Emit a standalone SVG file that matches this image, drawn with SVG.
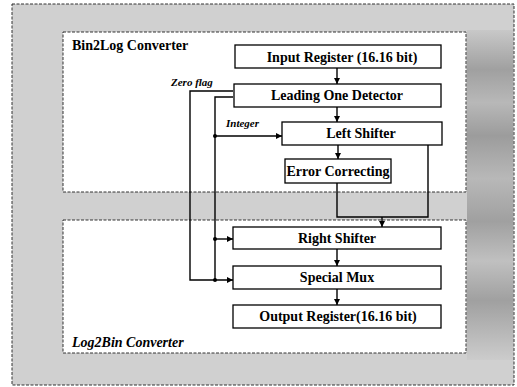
<svg xmlns="http://www.w3.org/2000/svg" width="517" height="387" viewBox="0 0 517 387">
<defs>
<style>
.frame{stroke:#333;stroke-width:1;stroke-dasharray:3 1.5}
.box{fill:#fff;stroke:#000;stroke-width:1.3}
text{font-family:'Liberation Serif','DejaVu Serif',serif;font-weight:bold;fill:#000}
.lbl{font-size:14px;text-anchor:middle}
.title{font-size:14px}
.sig{font-style:italic;font-size:11px}
.wire{fill:none;stroke:#000;stroke-width:1.4}
.arr{fill:none;stroke:#000;stroke-width:1.4;marker-end:url(#ah)}
</style>
<marker id="ah" viewBox="0 0 8 8" refX="8" refY="4" markerWidth="6" markerHeight="6" markerUnits="userSpaceOnUse" orient="auto">
<path d="M0,0 L8,4 L0,8 z" fill="#000"/>
</marker>
<linearGradient id="rg" x1="0" y1="0" x2="0" y2="1">
<stop offset="0" stop-color="#c8c8c8"/>
<stop offset="0.12" stop-color="#a0a0a0"/>
<stop offset="0.22" stop-color="#b8b8b8"/>
<stop offset="0.32" stop-color="#9c9c9c"/>
<stop offset="0.45" stop-color="#b8b8b8"/>
<stop offset="0.58" stop-color="#a0a0a0"/>
<stop offset="0.7" stop-color="#c0c0c0"/>
<stop offset="0.82" stop-color="#a0a0a0"/>
<stop offset="1" stop-color="#cccccc"/>
</linearGradient>
</defs>
<rect width="517" height="387" fill="#fff"/>
<g id="background">
<rect x="12" y="4" width="502" height="381" fill="#d0d0d0" class="frame"/>
<rect x="467" y="30" width="46" height="330" fill="url(#rg)"/>
<rect x="63" y="32" width="403" height="160" class="frame" fill="#fff"/>
<rect x="63" y="220" width="403" height="133" class="frame" fill="#fff"/>
<text x="72" y="50" class="title" font-family="Liberation Serif, serif">Bin2Log Converter</text>
<text x="72" y="347" class="title" font-style="italic">Log2Bin Converter</text>
</g>
<g id="connectors">
<path class="arr" d="M337,68 V84"/>
<path class="arr" d="M337,107 V122"/>
<path class="arr" d="M338,145 V159"/>
<path class="arr" d="M337,249 V266"/>
<path class="arr" d="M337,289 V305"/>
<path class="arr" d="M233,91 H190 V280 H233"/>
<path class="wire" d="M233,97 H215 V280"/>
<path class="arr" d="M215,136 H282"/>
<path class="arr" d="M215,239 H233"/>
<circle cx="215" cy="136" r="2" fill="#000"/>
<circle cx="215" cy="239" r="2" fill="#000"/>
<circle cx="215" cy="280" r="2" fill="#000"/>
<path class="wire" d="M337,183 V217 H428 V145"/>
<path class="arr" d="M382,217 V227"/>
<text x="171" y="86" class="sig">Zero flag</text>
<text x="226" y="127" class="sig">Integer</text>
</g>
<g id="input-register">
<rect x="235" y="45" width="206" height="23" class="box"/>
<text x="342" y="62" class="lbl">Input Register (16.16 bit)</text>
</g>
<g id="leading-one-detector">
<rect x="234" y="84" width="207" height="23" class="box"/>
<text x="337" y="100" class="lbl">Leading One Detector</text>
</g>
<g id="left-shifter">
<rect x="282" y="122" width="160" height="23" class="box"/>
<text x="361" y="138" class="lbl">Left Shifter</text>
</g>
<g id="error-correcting">
<rect x="285" y="159" width="106" height="24" class="box"/>
<text x="338" y="176" class="lbl">Error Correcting</text>
</g>
<g id="right-shifter">
<rect x="233" y="227" width="208" height="22" class="box"/>
<text x="337" y="243" class="lbl">Right Shifter</text>
</g>
<g id="special-mux">
<rect x="233" y="266" width="208" height="23" class="box"/>
<text x="337" y="282" class="lbl">Special Mux</text>
</g>
<g id="output-register">
<rect x="233" y="305" width="208" height="23" class="box"/>
<text x="338" y="321" class="lbl">Output Register(16.16 bit)</text>
</g>
</svg>
